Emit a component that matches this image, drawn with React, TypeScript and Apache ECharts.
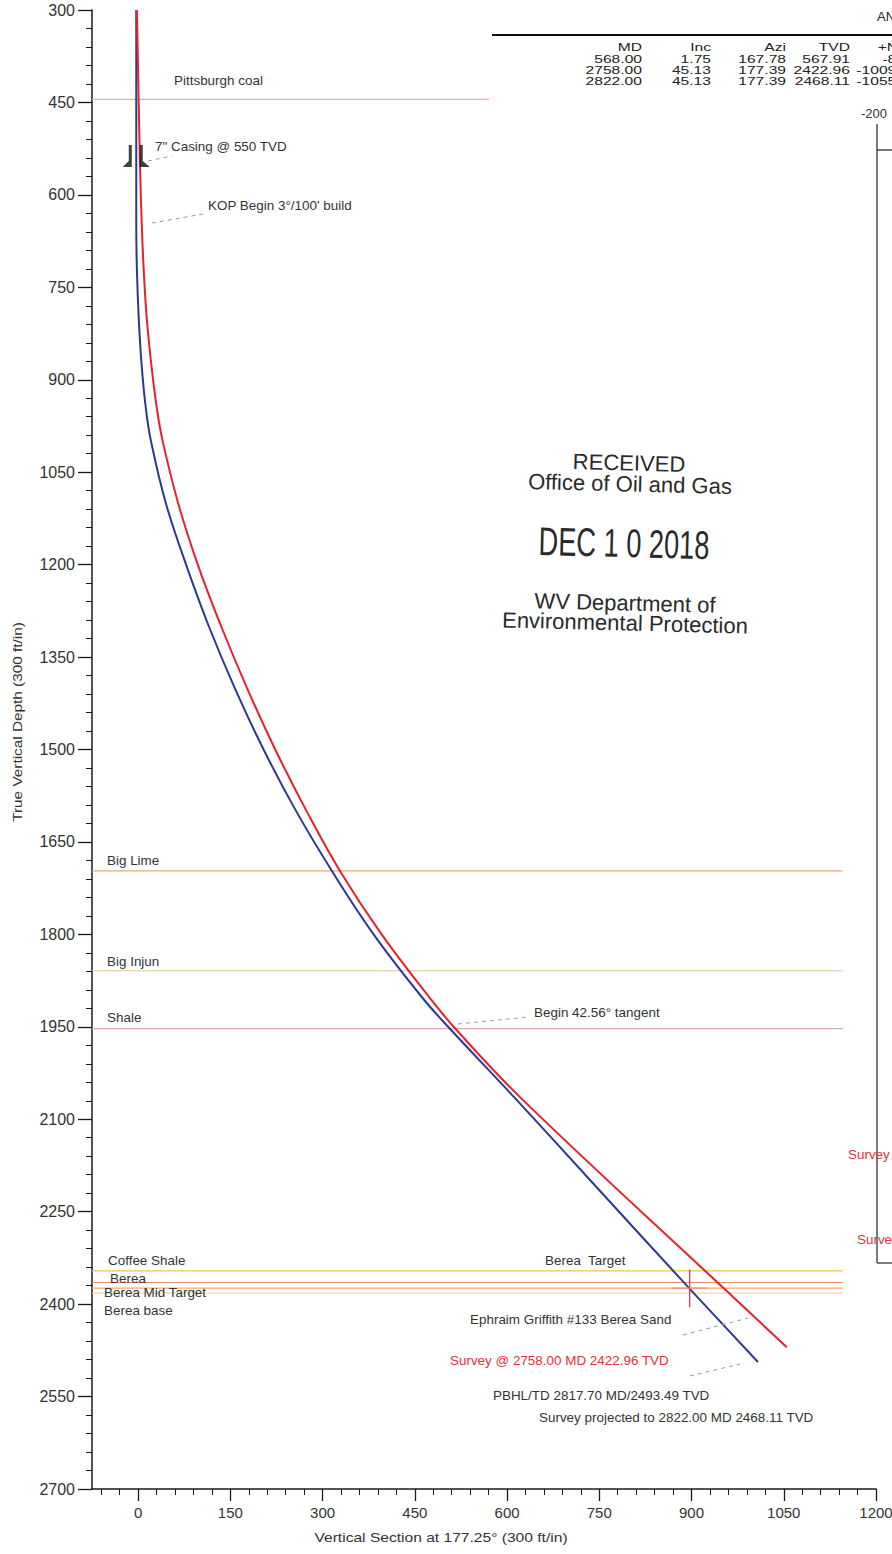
import React, { useEffect, useRef } from "react";
import * as echarts from "echarts";

// ---------- axis ranges & ticks ----------
const X_MIN = -75;
const X_MAX = 1200;
const Y_MIN = 300;
const Y_MAX = 2700;
const Y_INTERVAL = 150;
const X_MAJOR_TICKS = [0, 150, 300, 450, 600, 750, 900, 1050, 1200];
const X_MINOR_TICKS = [
  -60, -30, 30, 60, 90, 120, 180, 210, 240, 270, 330, 360, 390, 420, 480, 510, 540, 570,
  630, 660, 690, 720, 780, 810, 840, 870, 930, 960, 990, 1020, 1080, 1110, 1140, 1170,
];

// ---------- well paths [vertical section, TVD] ----------
const PLAN_PATH: [number, number][] = [
  [-3, 300], [-3, 650], [-2, 720], [1, 800], [6, 880], [13, 950], [21, 1000], [45, 1100],
  [78, 1200], [115, 1300], [157, 1400], [204, 1500], [257, 1600], [317, 1700], [383, 1800],
  [460, 1900], [506, 1952], [616, 2069], [739, 2203], [896, 2374], [1008, 2494],
];
const ACTUAL_PATH: [number, number][] = [
  [-2, 300], [0, 400], [3, 550], [6, 650], [9, 720], [14, 800], [22, 880], [31, 950],
  [40, 1000], [65, 1100], [97, 1200], [135, 1300], [177, 1400], [223, 1500], [274, 1600],
  [330, 1700], [396, 1800], [472, 1900], [515, 1952], [626, 2069], [952, 2374], [1055, 2470],
];

// ---------- formation tops ----------
const FORMATION_NAMES = ["Pittsburgh coal", "Big Lime", "Big Injun", "Shale", "Coffee Shale", "Berea", "Berea Mid Target", "Berea base"];
const FORMATION_TVD = [445, 1697, 1859, 1953, 2346, 2365, 2374, 2382];
const FORMATION_END_VS = [571, 1146, 1146, 1146, 1146, 1146, 1146, 1146];
const FORMATION_COLORS = ["#eaa9b6", "#f2a47a", "#ebc09c", "#dba6be", "#f2c452", "#f08c6c", "#f4aa62", "#f6c59c"];

// ---------- target & casing ----------
const TARGET_VS = 897;
const TARGET_TVD = 2374;
const TARGET_V_RANGE = [2344, 2405];
const TARGET_H_RANGE = [868, 925];
const CASING_VS = -3;
const CASING_TVD = 550;

// ---------- annotation table ----------
const TABLE_HEAD = ["MD", "Inc", "Azi", "TVD", "+N/-S"];
const TABLE_MD = ["568.00", "2758.00", "2822.00"];
const TABLE_INC = ["1.75", "45.13", "45.13"];
const TABLE_AZI = ["167.78", "177.39", "177.39"];
const TABLE_TVD = ["567.91", "2422.96", "2468.11"];
const TABLE_NS = ["-8.66", "-1009.43", "-1055.17"];

const FONT = '"Liberation Sans", Arial, Helvetica, sans-serif';
const ANN_SCALE = 1.12;

function txt(text: string, x: number, y: number, opts: any = {}) {
  return {
    type: "text",
    x,
    y,
    rotation: opts.rotation || 0,
    scaleX: opts.scaleX || 1,
    scaleY: opts.scaleY || 1,
    silent: true,
    z: 50,
    style: {
      text,
      fill: opts.color || "#333",
      fontSize: opts.size || 12,
      fontFamily: opts.family || FONT,
      fontWeight: opts.weight || "normal",
      textAlign: opts.align || "left",
      textVerticalAlign: "middle",
    },
  };
}

function ann(text: string, x: number, y: number, color?: string) {
  return txt(text, x, y, { size: 12, scaleX: ANN_SCALE, color: color || "#333" });
}

function leader(x1: number, y1: number, x2: number, y2: number) {
  return {
    type: "line",
    silent: true,
    z: 40,
    shape: { x1, y1, x2, y2 },
    style: { stroke: "#9a9a9a", lineWidth: 1, lineDash: [4, 4] },
  };
}

export default function App() {
  const ref = useRef<HTMLDivElement>(null);

  useEffect(() => {
    document.body.style.margin = "0";
    if (!ref.current) return;
    const chart = echarts.init(ref.current, undefined, { renderer: "svg" });

    const formationSeries = FORMATION_NAMES.map((name, i) => ({
      name,
      type: "line",
      data: [
        [X_MIN, FORMATION_TVD[i]],
        [FORMATION_END_VS[i], FORMATION_TVD[i]],
      ],
      symbol: "none",
      silent: true,
      z: 2,
      lineStyle: { color: FORMATION_COLORS[i], width: 1.1 },
    }));

    const tableX = [642, 711, 786, 850, 918];
    const tableY = [47, 59, 70, 81];
    const tableCols = [TABLE_MD, TABLE_INC, TABLE_AZI, TABLE_TVD, TABLE_NS];
    const tableGraphics: any[] = [];
    TABLE_HEAD.forEach((h, c) => {
      tableGraphics.push(txt(h, tableX[c], tableY[0], { align: "right", size: 11, scaleX: 1.42, color: "#222" }));
      tableCols[c].forEach((v, r) => {
        tableGraphics.push(txt(v, tableX[c], tableY[r + 1], { align: "right", size: 11, scaleX: 1.42, color: "#222" }));
      });
    });

    const stampRot = -0.025;
    const plainLabel = (v: number) => String(v);
    const option: any = {
      animation: false,
      backgroundColor: "#ffffff",
      grid: {
        left: 92,
        top: 10,
        width: 784,
        height: 1479,
        containLabel: false,
        outerBoundsMode: "none",
      },
      xAxis: [
        {
          type: "value",
          min: X_MIN,
          max: X_MAX,
          position: "bottom",
          axisLine: { show: true, onZero: false, lineStyle: { color: "#1a1a1a", width: 1.5 } },
          axisTick: { show: true, length: 12, customValues: X_MAJOR_TICKS, lineStyle: { color: "#1a1a1a", width: 1.3 } },
          axisLabel: { show: true, customValues: X_MAJOR_TICKS, formatter: plainLabel, margin: 16, color: "#333", fontSize: 15, fontFamily: FONT },
          splitLine: { show: false },
        },
        {
          type: "value",
          min: X_MIN,
          max: X_MAX,
          position: "bottom",
          axisLine: { show: false, onZero: false },
          axisTick: { show: true, length: 6, customValues: X_MINOR_TICKS, lineStyle: { color: "#1a1a1a", width: 1 } },
          axisLabel: { show: false },
          splitLine: { show: false },
        },
      ],
      yAxis: {
        type: "value",
        inverse: true,
        min: Y_MIN,
        max: Y_MAX,
        interval: Y_INTERVAL,
        axisLine: { show: true, onZero: false, lineStyle: { color: "#1a1a1a", width: 1.5 } },
        axisTick: { show: true, length: 14, lineStyle: { color: "#1a1a1a", width: 1.3 } },
        minorTick: { show: true, splitNumber: 5, length: 6, lineStyle: { color: "#1a1a1a", width: 1 } },
        axisLabel: { margin: 17, formatter: plainLabel, color: "#333", fontSize: 16, fontFamily: FONT },
        splitLine: { show: false },
        minorSplitLine: { show: false },
      },
      series: [
        ...formationSeries,
        {
          name: "Plan",
          type: "line",
          data: PLAN_PATH,
          symbol: "none",
          smooth: 0.4,
          silent: true,
          z: 5,
          lineStyle: { color: "#2b3990", width: 2 },
        },
        {
          name: "Actual",
          type: "line",
          data: ACTUAL_PATH,
          symbol: "none",
          smooth: 0.4,
          silent: true,
          z: 6,
          lineStyle: { color: "#e8212b", width: 2 },
        },
        {
          name: "TargetV",
          type: "line",
          data: [
            [TARGET_VS, TARGET_V_RANGE[0]],
            [TARGET_VS, TARGET_V_RANGE[1]],
          ],
          symbol: "none",
          silent: true,
          z: 7,
          lineStyle: { color: "#e8354a", width: 1.3 },
        },
        {
          name: "TargetH",
          type: "line",
          data: [
            [TARGET_H_RANGE[0], TARGET_TVD],
            [TARGET_H_RANGE[1], TARGET_TVD],
          ],
          symbol: "none",
          silent: true,
          z: 7,
          lineStyle: { color: "#f08a8a", width: 1.3 },
        },
        {
          name: "Casing",
          type: "scatter",
          data: [[CASING_VS, CASING_TVD]],
          symbol: "path://M6,0 L9,0 L9,22 L0,22 L6,16 Z M17,0 L20,0 L20,16 L27,22 L17,22 Z",
          symbolSize: [27, 22],
          symbolOffset: [0, -8],
          silent: true,
          z: 8,
          itemStyle: { color: "#111" },
        },
      ],
      graphic: [
        // axis names
        txt("True Vertical Depth (300 ft/in)", 17, 722, { align: "center", size: 13, scaleX: 1.18, rotation: Math.PI / 2 }),
        txt("Vertical Section at 177.25\u00b0 (300 ft/in)", 441, 1537, { align: "center", size: 13, scaleX: 1.2 }),
        // formation labels
        ann("Pittsburgh coal", 174, 81),
        ann("Big Lime", 107, 861),
        ann("Big Injun", 107, 962),
        ann("Shale", 107, 1018),
        ann("Coffee Shale", 108, 1261),
        ann("Berea", 110, 1279),
        ann("Berea Mid Target", 104, 1293),
        ann("Berea base", 104, 1311),
        // well annotations
        ann('7" Casing @ 550 TVD', 155, 147),
        ann("KOP Begin 3\u00b0/100' build", 208, 206),
        ann("Begin 42.56\u00b0 tangent", 534, 1013),
        ann("Berea  Target", 545, 1261),
        ann("Ephraim Griffith #133 Berea Sand", 470, 1320),
        ann("Survey @ 2758.00 MD 2422.96 TVD", 450, 1361, "#e8303a"),
        ann("PBHL/TD 2817.70 MD/2493.49 TVD", 493, 1396),
        ann("Survey projected to 2822.00 MD 2468.11 TVD", 539, 1418),
        leader(148, 161, 172, 156),
        leader(152, 223, 203, 214),
        leader(458, 1024, 528, 1017),
        leader(683, 1335, 748, 1318),
        leader(690, 1376, 740, 1364),
        // stamp
        txt("RECEIVED", 629, 463, { align: "center", size: 22, color: "#2a2a2a", rotation: stampRot }),
        txt("Office of Oil and Gas", 630, 484, { align: "center", size: 22, color: "#2a2a2a", rotation: stampRot }),
        txt("DEC 1 0 2018", 624, 543, { align: "center", size: 40, color: "#2a2a2a", scaleX: 0.68, rotation: stampRot }),
        txt("WV Department of", 625, 603, { align: "center", size: 22, color: "#2a2a2a", rotation: stampRot }),
        txt("Environmental Protection", 625, 623, { align: "center", size: 22, color: "#2a2a2a", rotation: stampRot }),
        // annotation table
        {
          type: "line",
          silent: true,
          shape: { x1: 492, y1: 35, x2: 892, y2: 35 },
          style: { stroke: "#111", lineWidth: 2 },
        },
        txt("ANNOTATIONS", 877, 16, { size: 13, color: "#222" }),
        ...tableGraphics,
        // neighbouring plan-view box (cut at page edge)
        txt("-200", 874, 113, { align: "center", size: 13, color: "#333" }),
        {
          type: "line",
          silent: true,
          shape: { x1: 877, y1: 124, x2: 877, y2: 1263 },
          style: { stroke: "#222", lineWidth: 1.2 },
        },
        {
          type: "line",
          silent: true,
          shape: { x1: 877, y1: 150, x2: 892, y2: 150 },
          style: { stroke: "#222", lineWidth: 1.2 },
        },
        {
          type: "line",
          silent: true,
          shape: { x1: 877, y1: 1263, x2: 892, y2: 1263 },
          style: { stroke: "#222", lineWidth: 1.2 },
        },
        ann("Survey @ 2758.00 MD 2422.96 TVD", 848, 1155, "#e8303a"),
        ann("Survey projected to 2822.00 MD 2468.11 TVD", 857, 1240, "#e8303a"),
      ],
    };

    chart.setOption(option);
    return () => {
      chart.dispose();
    };
  }, []);

  return <div ref={ref} style={{ width: 892, height: 1554 }} />;
}
